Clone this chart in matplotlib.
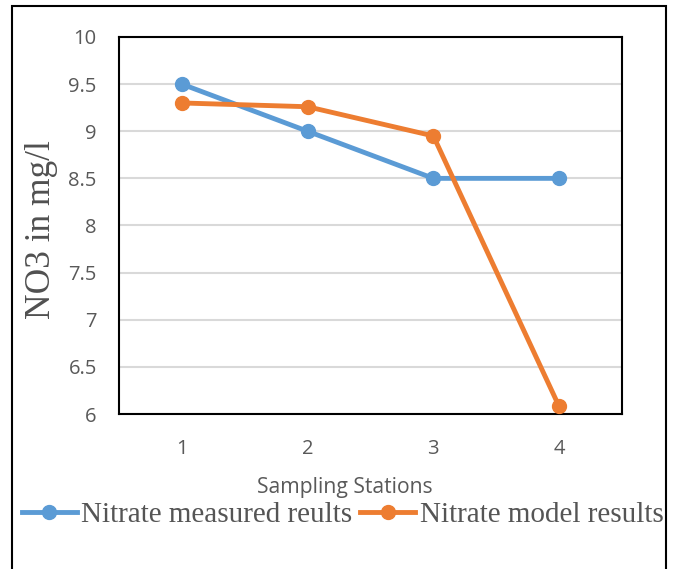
import matplotlib
matplotlib.use("Agg")
import matplotlib.pyplot as plt
from matplotlib.patches import Rectangle

stations = [1, 2, 3, 4]
measured = [9.5, 9.0, 8.5, 8.5]
model = [9.3, 9.26, 8.95, 6.08]

grey = '#595959'

fig = plt.figure(figsize=(6.78, 5.69), dpi=100)
ax = fig.add_axes([0.1755, 0.2724, 0.7419, 0.6626])

ax.plot(stations, measured, color='#5B9BD5', lw=3.5, marker='o', ms=10,
        label='Nitrate measured reults', zorder=3)
ax.plot(stations, model, color='#ED7D31', lw=3.5, marker='o', ms=10,
        label='Nitrate model results', zorder=3)

ax.set_xlim(0.5, 4.5)
ax.set_ylim(6, 10)
ax.set_xticks(stations)
ax.set_yticks([6, 6.5, 7, 7.5, 8, 8.5, 9, 9.5, 10])
ax.set_yticklabels(['6', '6.5', '7', '7.5', '8', '8.5', '9', '9.5', '10'])
ax.yaxis.grid(True, color='#d9d9d9', lw=1.5)
ax.set_axisbelow(True)
ax.tick_params(length=0, labelsize=14.5, labelcolor=grey)
ax.tick_params(axis='y', pad=16)
ax.tick_params(axis='x', pad=18)
for t in ax.get_xticklabels() + ax.get_yticklabels():
    t.set_family('Open Sans')
for s in ax.spines.values():
    s.set_linewidth(1.5)
    s.set_color('black')

ax.set_xlabel('Sampling Stations', family='Open Sans', fontsize=15.2,
              color=grey, va='center')
ax.xaxis.set_label_coords(0.448, -0.195)
ax.set_ylabel('NO3 in mg/l', family='Liberation Serif', fontsize=25.5,
              color='#505050')
ax.yaxis.set_label_coords(-0.122, 0.49)

fig.legend(loc='center', bbox_to_anchor=(0.505, 0.095), ncol=2, frameon=False,
           prop={'family': 'Liberation Serif', 'size': 21},
           handlelength=1.9, handletextpad=0.14, columnspacing=0.27,
           borderaxespad=0, borderpad=0, labelcolor='#555555')

# outer frame around the whole chart
fig.patches.append(Rectangle((12 / 678, -0.02), 654 / 678, 1.02 - 6 / 569,
                             transform=fig.transFigure, fill=False,
                             lw=1.5, ec='black'))

fig.savefig('out.png', dpi=100)
